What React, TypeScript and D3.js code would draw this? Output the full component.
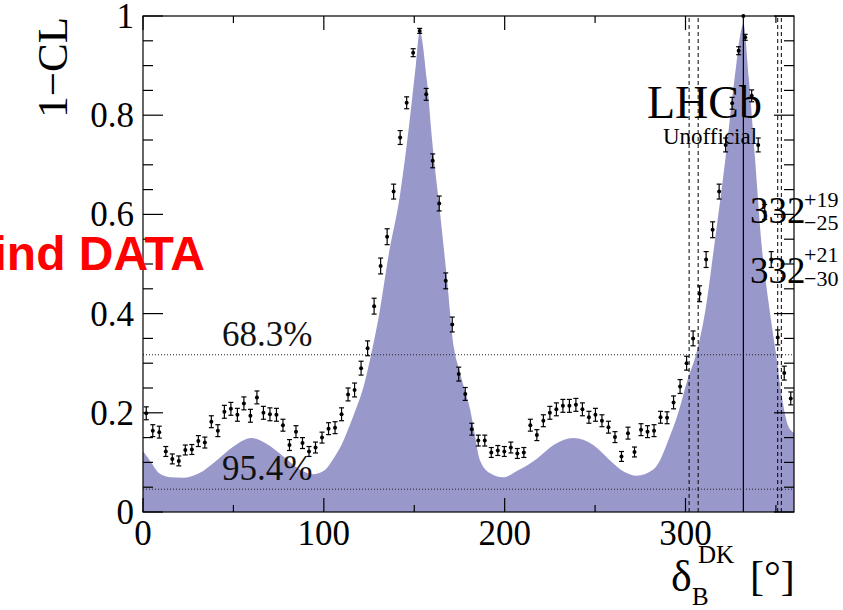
import React from 'react';
import * as d3 from 'd3';

// scan points (bin centres in degrees), 1-CL values and their errors
const scanX = [1.8, 5.4, 9.0, 12.6, 16.2, 19.8, 23.4, 27.0, 30.6, 34.2, 37.8, 41.4, 45.0, 48.6, 52.2, 55.8, 59.4, 63.0, 66.6, 70.2,
  73.8, 77.4, 81.0, 84.6, 88.2, 91.8, 95.4, 99.0, 102.6, 106.2, 109.8, 113.4, 117.0, 120.6, 124.2, 127.8, 131.4, 135.0, 138.6, 142.2,
  145.8, 149.4, 153.0, 156.6, 160.2, 163.8, 167.4, 171.0, 174.6, 178.2, 181.8, 185.4, 189.0, 192.6, 196.2, 199.8, 203.4, 207.0, 210.6, 214.2,
  217.8, 221.4, 225.0, 228.6, 232.2, 235.8, 239.4, 243.0, 246.6, 250.2, 253.8, 257.4, 261.0, 264.6, 268.2, 271.8, 275.4, 279.0, 282.6, 286.2,
  289.8, 293.4, 297.0, 300.6, 304.2, 307.8, 311.4, 315.0, 318.6, 322.2, 325.8, 329.4, 333.0, 336.6, 340.2, 343.8, 347.4, 351.0, 354.6, 358.2];

const scanY = [0.199, 0.164, 0.161, 0.122, 0.107, 0.103, 0.125, 0.126, 0.143, 0.140, 0.182, 0.164, 0.202, 0.208, 0.196, 0.219, 0.194, 0.231, 0.200, 0.197,
  0.196, 0.175, 0.135, 0.162, 0.139, 0.122, 0.130, 0.150, 0.168, 0.170, 0.197, 0.237, 0.246, 0.290, 0.330, 0.415, 0.496, 0.555, 0.646, 0.755,
  0.825, 0.926, 0.970, 0.842, 0.708, 0.622, 0.466, 0.378, 0.278, 0.238, 0.167, 0.144, 0.144, 0.120, 0.124, 0.122, 0.130, 0.118, 0.120, 0.175,
  0.155, 0.184, 0.200, 0.207, 0.214, 0.214, 0.216, 0.207, 0.191, 0.196, 0.184, 0.171, 0.151, 0.112, 0.159, 0.121, 0.166, 0.162, 0.164, 0.191,
  0.190, 0.221, 0.253, 0.300, 0.350, 0.440, 0.509, 0.569, 0.646, 0.740, 0.824, 0.930, 0.957, 0.839, 0.740, 0.605, 0.509, 0.352, 0.280, 0.229];

const scanErr = [0.013, 0.012, 0.012, 0.010, 0.010, 0.010, 0.010, 0.010, 0.011, 0.011, 0.012, 0.012, 0.013, 0.013, 0.013, 0.013, 0.013, 0.013, 0.013, 0.013,
  0.013, 0.012, 0.011, 0.012, 0.011, 0.010, 0.011, 0.011, 0.012, 0.012, 0.013, 0.013, 0.014, 0.014, 0.015, 0.016, 0.016, 0.016, 0.015, 0.014,
  0.012, 0.008, 0.005, 0.012, 0.014, 0.015, 0.016, 0.015, 0.014, 0.013, 0.012, 0.011, 0.011, 0.010, 0.010, 0.010, 0.011, 0.010, 0.010, 0.012,
  0.011, 0.012, 0.013, 0.013, 0.013, 0.013, 0.013, 0.013, 0.012, 0.013, 0.012, 0.012, 0.011, 0.010, 0.012, 0.010, 0.012, 0.012, 0.012, 0.012,
  0.012, 0.013, 0.014, 0.014, 0.015, 0.016, 0.016, 0.016, 0.015, 0.014, 0.012, 0.008, 0.006, 0.012, 0.014, 0.015, 0.016, 0.015, 0.014, 0.013];

// profile likelihood curve (filled)
const curveX = [0, 4, 9, 15, 22, 31, 41, 50, 60, 68, 78, 87, 94, 100, 105, 110, 114, 118, 122, 126, 131, 136, 142, 147, 151, 153,
  157, 160, 164, 168, 172, 175, 178, 181, 183.5, 186, 192, 199, 208, 218, 227, 238, 249, 258, 266, 273, 282, 286, 290, 296, 301,
  306, 311, 316, 322, 327, 331, 332, 335, 338.5, 342, 346, 350, 353, 357, 360];
const curveY = [0.123, 0.103, 0.078, 0.070, 0.069, 0.078, 0.105, 0.132, 0.149, 0.138, 0.111, 0.085, 0.076, 0.083, 0.106, 0.137, 0.172, 0.21, 0.253, 0.315, 0.407, 0.522, 0.636, 0.775, 0.905, 0.968,
  0.870, 0.745, 0.612, 0.474, 0.33, 0.285, 0.245, 0.205, 0.155, 0.108, 0.078, 0.070, 0.085, 0.108, 0.135, 0.149, 0.135, 0.105, 0.081, 0.073, 0.085, 0.105, 0.140, 0.200, 0.265,
  0.320, 0.407, 0.540, 0.710, 0.870, 0.975, 0.985, 0.875, 0.710, 0.542, 0.421, 0.320, 0.239, 0.172, 0.160];

const clLevels = [0.317, 0.046];
const clLabels = ['68.3%', '95.4%'];
const dashedX = [302, 307, 351, 353];
const bestFit = 332;
const xMajor = [0, 100, 200, 300];
const xMinor = [50, 150, 250, 350];
const yMajor = [0, 0.2, 0.4, 0.6, 0.8, 1];
const yMinor = [0.05, 0.1, 0.15, 0.25, 0.3, 0.35, 0.45, 0.5, 0.55, 0.65, 0.7, 0.75, 0.85, 0.9, 0.95];

const W = 843;
const H = 610;
const L = 143, R = 794, T = 16, B = 512;
const serif = '"Liberation Serif", "Times New Roman", serif';

export default function App() {
  const x = d3.scaleLinear().domain([0, 360]).range([L, R]);
  const y = d3.scaleLinear().domain([0, 1]).range([B, T]);

  const pts = curveX.map((v, i) => [v, curveY[i]] as [number, number]);
  const area = d3.area<[number, number]>()
    .x(d => x(d[0])).y0(y(0)).y1(d => y(d[1]))
    .curve(d3.curveMonotoneX);

  return (
    <svg width={W} height={H} style={{ position: 'absolute', left: 0, top: 0, background: '#fff', fontFamily: serif }}>
      <rect x={0} y={0} width={W} height={H} fill="#fff" />
      <path d={area(pts) || ''} fill="#9898cb" />

      {clLevels.map((c, i) => (
        <line key={'cl' + i} x1={L} x2={R} y1={y(c)} y2={y(c)} stroke="#222" strokeWidth={1} strokeDasharray="1,2" />
      ))}
      {clLabels.map((t, i) => (
        <text key={'cll' + i} x={222} y={i === 0 ? 346 : 480} fontSize={35} fill="#111">{t}</text>
      ))}

      {dashedX.map((d, i) => (
        <line key={'dx' + i} x1={x(d)} x2={x(d)} y1={y(0)} y2={y(1)} stroke="#000" strokeWidth={1} strokeDasharray="4,3" />
      ))}
      <line x1={x(bestFit)} x2={x(bestFit)} y1={y(0)} y2={y(1)} stroke="#000" strokeWidth={1.2} />
      <circle cx={x(bestFit)} cy={y(1)} r={2} fill="#000" />

      {/* labels inside plot */}
      <text x={647} y={118} fontSize={46} fill="#000">LHCb</text>
      <text x={663} y={144} fontSize={23} fill="#000">Unofficial</text>
      <text x={750} y={223} fontSize={37} fill="#000">332</text>
      <text x={804} y={207} fontSize={22} fill="#000">+19</text>
      <text x={804} y={230} fontSize={22} fill="#000">−25</text>
      <text x={750} y={283} fontSize={37} fill="#000">332</text>
      <text x={804} y={262} fontSize={22} fill="#000">+21</text>
      <text x={804} y={286} fontSize={22} fill="#000">−30</text>

      {/* scan points with error bars */}
      {scanX.map((xv, i) => {
        const cx = x(xv);
        const yt = y(scanY[i] + scanErr[i]);
        const yb = y(scanY[i] - scanErr[i]);
        return (
          <g key={'p' + i} stroke="#000" strokeWidth={1.2}>
            <line x1={cx} x2={cx} y1={yt} y2={yb} />
            <line x1={cx - 2.5} x2={cx + 2.5} y1={yt} y2={yt} />
            <line x1={cx - 2.5} x2={cx + 2.5} y1={yb} y2={yb} />
            <circle cx={cx} cy={y(scanY[i])} r={2} fill="#000" stroke="none" />
          </g>
        );
      })}

      {/* frame and ticks */}
      <rect x={L} y={T} width={R - L} height={B - T} fill="none" stroke="#000" strokeWidth={1.2} />
      {xMajor.map(v => (
        <g key={'xm' + v} stroke="#000" strokeWidth={1.2}>
          <line x1={x(v)} x2={x(v)} y1={B} y2={B - 14} />
          <line x1={x(v)} x2={x(v)} y1={T} y2={T + 14} />
        </g>
      ))}
      {xMinor.map(v => (
        <g key={'xn' + v} stroke="#000" strokeWidth={1.2}>
          <line x1={x(v)} x2={x(v)} y1={B} y2={B - 7} />
          <line x1={x(v)} x2={x(v)} y1={T} y2={T + 7} />
        </g>
      ))}
      {yMajor.map(v => (
        <g key={'ym' + v} stroke="#000" strokeWidth={1.2}>
          <line x1={L} x2={L + 20} y1={y(v)} y2={y(v)} />
          <line x1={R} x2={R - 20} y1={y(v)} y2={y(v)} />
        </g>
      ))}
      {yMinor.map(v => (
        <g key={'yn' + v} stroke="#000" strokeWidth={1.2}>
          <line x1={L} x2={L + 10} y1={y(v)} y2={y(v)} />
          <line x1={R} x2={R - 10} y1={y(v)} y2={y(v)} />
        </g>
      ))}

      {/* tick labels */}
      {xMajor.map(v => (
        <text key={'xl' + v} x={x(v)} y={545} fontSize={35} textAnchor="middle" fill="#000">{v}</text>
      ))}
      {yMajor.map(v => (
        <text key={'yl' + v} x={134} y={y(v) + 12} fontSize={35} textAnchor="end" fill="#000">{d3.format('~g')(v)}</text>
      ))}

      {/* axis titles */}
      <text transform="translate(67,17) rotate(-90)" fontSize={43} textAnchor="end" fill="#000">1−CL</text>
      <text x={671} y={591} fontSize={44} fill="#000">δ</text>
      <text x={698} y={563} fontSize={25} fill="#000">DK</text>
      <text x={692} y={605} fontSize={25} fill="#000">B</text>
      <text x={750} y={590} fontSize={42} fill="#000">[°]</text>

      <text x={205} y={270} fontSize={48} fontWeight="bold" textAnchor="end" fill="#ff0000"
        style={{ fontFamily: '"Liberation Sans", Arial, sans-serif' }}>Find DATA</text>
    </svg>
  );
}
